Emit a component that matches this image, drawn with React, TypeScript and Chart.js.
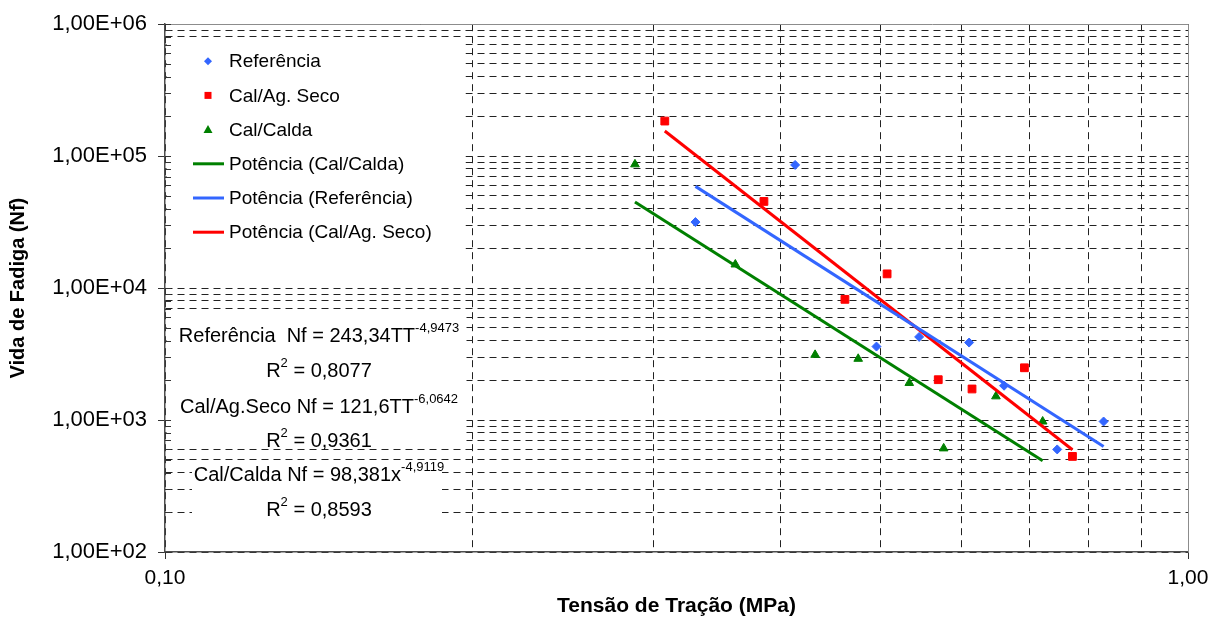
import React, { useEffect, useRef } from 'react';
import { Chart, registerables } from 'chart.js';

Chart.register(...registerables);

// ---- data ----
const refX = [0.33, 0.413, 0.496, 0.546, 0.611, 0.661, 0.745, 0.827];
const refY = [31650, 85800, 3606, 4267, 3866, 1820, 599, 975];

const secoX = [0.308, 0.385, 0.462, 0.508, 0.57, 0.615, 0.692, 0.771];
const secoY = [184500, 45370, 8220, 12820, 2022, 1720, 2490, 530];

const caldaX = [0.288, 0.361, 0.432, 0.476, 0.534, 0.577, 0.649, 0.721];
const caldaY = [86700, 15100, 3120, 2912, 1909, 610, 1512, 975];

// trend-line end points (power fits, straight on log-log axes)
const trendCaldaX = [0.288, 0.721];
const trendCaldaY = [45000, 492];
const trendRefX = [0.33, 0.827];
const trendRefY = [59000, 630];
const trendSecoX = [0.308, 0.771];
const trendSecoY = [155000, 595];

// ---- axes ----
const xTickValues = [0.1, 0.2, 0.3, 0.4, 0.5, 0.6, 0.7, 0.8, 0.9, 1.0];
const xTickLabels = ['0,10', '', '', '', '', '', '', '', '', '1,00'];
const yMajorValues = [1e2, 1e3, 1e4, 1e5, 1e6];
const yTickLabels = ['1,00E+02', '1,00E+03', '1,00E+04', '1,00E+05', '1,00E+06'];
const yMinorFactors = [2, 3, 4, 5, 6, 7, 8, 9];

const xTitle = 'Tensão de Tração (MPa)';
const yTitle = 'Vida de Fadiga (Nf)';

const seriesNames = [
  'Referência',
  'Cal/Ag. Seco',
  'Cal/Calda',
  'Potência (Cal/Calda)',
  'Potência (Referência)',
  'Potência (Cal/Ag. Seco)',
];

const BLUE = '#3366ff';
const RED = '#ff0000';
const GREEN = '#008000';

// trend-line equation labels: segments [text, isSuperscript]
const eqLines: [string, boolean][][] = [
  [['Referência  Nf = 243,34TT', false], ['-4,9473', true]],
  [['R', false], ['2', true], [' = 0,8077', false]],
  [['Cal/Ag.Seco Nf = 121,6TT', false], ['-6,0642', true]],
  [['R', false], ['2', true], [' = 0,9361', false]],
  [['Cal/Calda Nf = 98,381x', false], ['-4,9119', true]],
  [['R', false], ['2', true], [' = 0,8593', false]],
];

const FONT = '"Liberation Sans", Arial, sans-serif';

const yTickValues: number[] = [];
yMajorValues.forEach((m, i) => {
  yTickValues.push(m);
  if (i < yMajorValues.length - 1) yMinorFactors.forEach((f) => yTickValues.push(m * f));
});
yTickValues.sort((a, b) => a - b);

const isPow10 = (v: number) => {
  if (v == null || v <= 0) return false;
  const l = Math.log10(v);
  return Math.abs(l - Math.round(l)) < 1e-6;
};

const toPts = (xs: number[], ys: number[]) => xs.map((x, i) => ({ x, y: ys[i] }));

function drawMarker(ctx: CanvasRenderingContext2D, style: string, x: number, y: number, color: string) {
  ctx.fillStyle = color;
  ctx.beginPath();
  if (style === 'rectRot') {
    const r = 4;
    ctx.moveTo(x, y - r);
    ctx.lineTo(x + r, y);
    ctx.lineTo(x, y + r);
    ctx.lineTo(x - r, y);
    ctx.closePath();
  } else if (style === 'rect') {
    ctx.rect(x - 3.5, y - 3.5, 7, 7);
  } else {
    ctx.moveTo(x, y - 4.5);
    ctx.lineTo(x + 4.5, y + 3.5);
    ctx.lineTo(x - 4.5, y + 3.5);
    ctx.closePath();
  }
  ctx.fill();
}

const overlayPlugin = {
  id: 'overlay',
  beforeDatasetsDraw(chart: any) {
    const ctx: CanvasRenderingContext2D = chart.ctx;
    const { left, top, right, bottom } = chart.chartArea;
    const ys = chart.scales.y;
    ctx.save();
    ctx.setLineDash([]);

    // plot-area top/right border
    ctx.strokeStyle = '#8c8c8c';
    ctx.lineWidth = 1;
    ctx.beginPath();
    ctx.moveTo(left, Math.round(top) + 0.5);
    ctx.lineTo(Math.round(right) + 0.5, Math.round(top) + 0.5);
    ctx.lineTo(Math.round(right) + 0.5, bottom);
    ctx.stroke();

    // white boxes (legend, equation labels)
    ctx.fillStyle = '#ffffff';
    ctx.fillRect(left + 1.5, top + 16, 299, 209);
    ctx.fillRect(left + 1.5, top + 290, 300, 134);
    ctx.fillRect(left + 27, top + 436, 250, 64);

    // inside ticks on the y axis
    ctx.strokeStyle = '#333';
    ctx.lineWidth = 1;
    ctx.beginPath();
    yTickValues.forEach((v) => {
      const py = Math.round(ys.getPixelForValue(v)) + 0.5;
      ctx.moveTo(left, py);
      ctx.lineTo(left + 6, py);
    });
    ctx.stroke();

    // legend
    const ds = chart.data.datasets;
    ctx.font = `19px ${FONT}`;
    ctx.textBaseline = 'middle';
    ctx.textAlign = 'left';
    ds.forEach((d: any, i: number) => {
      const cy = top + 37 + i * 34.2;
      const cx = left + 43;
      if (d.showLine) {
        ctx.strokeStyle = d.borderColor;
        ctx.lineWidth = 3;
        ctx.beginPath();
        ctx.moveTo(left + 28, cy);
        ctx.lineTo(left + 59, cy);
        ctx.stroke();
      } else {
        drawMarker(ctx, d.pointStyle, cx, cy, d.backgroundColor);
      }
      ctx.fillStyle = '#000';
      ctx.fillText(d.label, left + 64, cy + 1);
    });

    // equations
    const mainFont = `20px ${FONT}`;
    const supFont = `13px ${FONT}`;
    const eqY = [311, 346, 382, 416, 450, 485];
    const cxEq = left + 154;
    eqLines.forEach((segs, i) => {
      let w = 0;
      segs.forEach(([t, sup]) => {
        ctx.font = sup ? supFont : mainFont;
        w += ctx.measureText(t).width;
      });
      let x = cxEq - w / 2;
      const y = top + eqY[i];
      ctx.fillStyle = '#000';
      segs.forEach(([t, sup]) => {
        ctx.font = sup ? supFont : mainFont;
        ctx.fillText(t, x, sup ? y - 7 : y + 1);
        x += ctx.measureText(t).width;
      });
    });

    ctx.restore();
  },
};

export default function App() {
  const canvasRef = useRef<HTMLCanvasElement | null>(null);

  useEffect(() => {
    const canvas = canvasRef.current;
    if (!canvas) return;
    const tickColor = (c: any) => (c.tick && isPow10(c.tick.value) ? '#333' : 'rgba(0,0,0,0)');
    const tickColorX = (c: any) =>
      c.tick && (Math.abs(c.tick.value - 0.1) < 1e-9 || Math.abs(c.tick.value - 1) < 1e-9) ? '#333' : 'rgba(0,0,0,0)';

    const chart = new Chart(canvas, {
      type: 'scatter',
      data: {
        datasets: [
          {
            label: seriesNames[0],
            data: toPts(refX, refY),
            pointStyle: 'rectRot',
            pointRadius: 4.5,
            backgroundColor: BLUE,
            borderColor: BLUE,
            borderWidth: 1,
            order: 1,
          },
          {
            label: seriesNames[1],
            data: toPts(secoX, secoY),
            pointStyle: 'rect',
            pointRadius: 5.5,
            backgroundColor: RED,
            borderColor: RED,
            borderWidth: 1,
            order: 1,
          },
          {
            label: seriesNames[2],
            data: toPts(caldaX, caldaY),
            pointStyle: 'triangle',
            pointRadius: 5,
            backgroundColor: GREEN,
            borderColor: GREEN,
            borderWidth: 1,
            order: 1,
          },
          {
            label: seriesNames[3],
            data: toPts(trendCaldaX, trendCaldaY),
            showLine: true,
            pointRadius: 0,
            borderColor: GREEN,
            backgroundColor: GREEN,
            borderWidth: 3,
            order: 0,
          },
          {
            label: seriesNames[4],
            data: toPts(trendRefX, trendRefY),
            showLine: true,
            pointRadius: 0,
            borderColor: BLUE,
            backgroundColor: BLUE,
            borderWidth: 3,
            order: 0,
          },
          {
            label: seriesNames[5],
            data: toPts(trendSecoX, trendSecoY),
            showLine: true,
            pointRadius: 0,
            borderColor: RED,
            backgroundColor: RED,
            borderWidth: 3,
            order: 0,
          },
        ] as any,
      },
      options: {
        responsive: false,
        devicePixelRatio: 1,
        animation: false,
        layout: { padding: { left: 0, top: 22, right: 35, bottom: 0 } },
        plugins: {
          legend: { display: false },
          tooltip: { enabled: false },
        },
        scales: {
          x: {
            type: 'logarithmic',
            position: 'bottom',
            min: 0.1,
            max: 1,
            afterBuildTicks: (s: any) => {
              s.ticks = xTickValues.map((v) => ({ value: v }));
            },
            afterFit: (s: any) => {
              s.height = 69;
            },
            ticks: {
              autoSkip: false,
              maxRotation: 0,
              minRotation: 0,
              padding: 7,
              color: '#000',
              font: { family: FONT, size: 21 },
              callback: (v: any) => {
                const i = xTickValues.findIndex((t) => Math.abs(t - Number(v)) < 1e-9);
                return i >= 0 ? xTickLabels[i] : '';
              },
            },
            grid: {
              color: '#222',
              lineWidth: 1,
              drawTicks: true,
              tickLength: 7,
              tickColor: tickColorX,
              tickBorderDash: [],
            },
            border: { display: true, color: '#4d4d4d', width: 1.5, dash: [7, 5] },
            title: {
              display: true,
              text: xTitle,
              color: '#000',
              font: { family: FONT, size: 21, weight: 'bold' },
              padding: { top: 0, bottom: 2 },
            },
          },
          y: {
            type: 'logarithmic',
            position: 'left',
            min: 100,
            max: 1e6,
            afterBuildTicks: (s: any) => {
              s.ticks = yTickValues.map((v) => ({ value: v }));
            },
            afterFit: (s: any) => {
              s.width = 165;
            },
            ticks: {
              autoSkip: false,
              padding: 11,
              color: '#000',
              font: { family: FONT, size: 22 },
              callback: (v: any) => {
                const i = yMajorValues.findIndex((t) => Math.abs(t - Number(v)) / t < 1e-9);
                return i >= 0 ? yTickLabels[i] : '';
              },
            },
            grid: {
              color: '#222',
              lineWidth: 1,
              drawTicks: true,
              tickLength: 7,
              tickColor: tickColor,
              tickBorderDash: [],
            },
            border: { display: true, color: '#4d4d4d', width: 1.5, dash: [7, 5] },
            title: {
              display: true,
              text: yTitle,
              color: '#000',
              font: { family: FONT, size: 20, weight: 'bold' },
              padding: { top: 6, bottom: 0 },
            },
          },
        },
      } as any,
      plugins: [overlayPlugin],
    });

    return () => chart.destroy();
  }, []);

  return (
    <div style={{ position: 'absolute', left: 0, top: 0, width: 1223, height: 621, background: '#fff' }}>
      <canvas ref={canvasRef} width={1223} height={621} />
    </div>
  );
}
